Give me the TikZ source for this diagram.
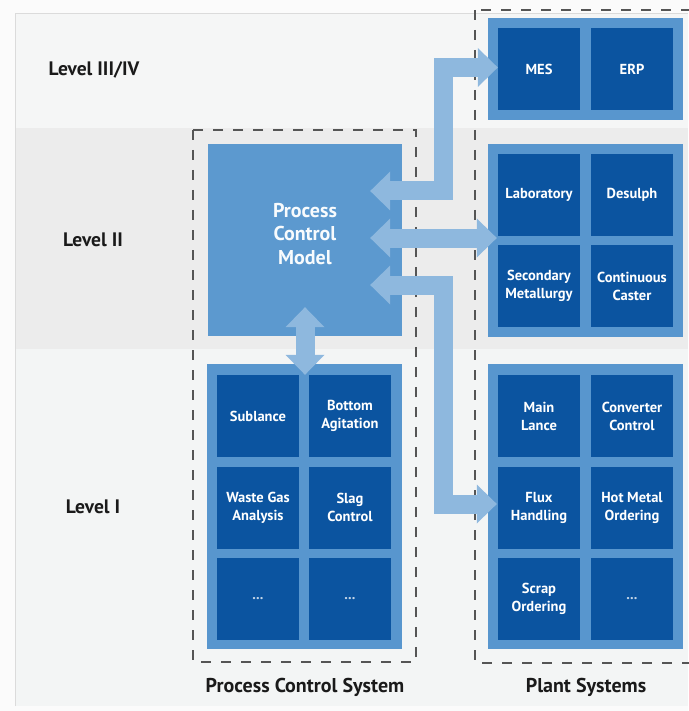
\documentclass[tikz,border=0pt]{standalone}
\usepackage{fontspec}
\setmainfont{PT Sans}
\usetikzlibrary{arrows.meta,calc}

\definecolor{pagebg}{HTML}{FBFBFB}
\definecolor{panelbg}{HTML}{F3F5F5}
\definecolor{bandtop}{HTML}{F5F6F6}
\definecolor{bandmid}{HTML}{ECECEC}
\definecolor{framebl}{HTML}{5896CE}
\definecolor{cellbl}{HTML}{0B54A0}
\definecolor{modelbl}{HTML}{5C99CF}
\definecolor{arrowbl}{HTML}{8EB8DE}
\definecolor{dashgr}{HTML}{555555}
\definecolor{labelk}{HTML}{1A1A1A}

\begin{document}
\begin{tikzpicture}[x=1pt,y=-1pt,
  frame/.style={fill=framebl, draw=none, minimum width=195pt, inner sep=0pt},
  cell/.style={fill=cellbl, draw=none, minimum width=82pt, minimum height=82pt,
    inner sep=2pt, text=white, align=center,
    font=\bfseries\fontsize{14.5}{18}\selectfont},
  dots/.style={cell, text=white!75!cellbl},
  model/.style={fill=modelbl, draw=none, minimum width=194pt, minimum height=192pt,
    inner sep=0pt},
  modeltext/.style={text=white!96!modelbl, align=center,
    font=\bfseries\fontsize{20}{23.5}\selectfont},
  levellabel/.style={text=labelk, font=\bfseries\fontsize{19.5}{22}\selectfont},
  grouplabel/.style={text=labelk, font=\bfseries\fontsize{20}{22}\selectfont},
  groupbox/.style={draw=dashgr, line width=2pt, dash pattern=on 10pt off 10pt},
  blockarrow/.style={draw=arrowbl, line width=19pt, line join=miter,
    {Triangle[length=20pt,width=39pt,line width=0pt]}-{Triangle[length=20pt,width=39pt,line width=0pt]}}
]
\useasboundingbox (0,0) rectangle (688,711);

% page, panel and level bands
\fill[pagebg] (0,0) rectangle (688,711);
\fill[panelbg] (15,13) rectangle (688,706);
\fill[bandtop] (15,13) rectangle (688,128);
\fill[bandmid] (15,128) rectangle (688,349);
\draw[black!14, line width=0.8pt] (15,706) -- (15,13) -- (688,13);

% level labels
\node[levellabel] (lv34) at (94,70) {Level III/IV};
\node[levellabel] (lv2)  at (93,240) {Level II};
\node[levellabel] (lv1)  at (93,507) {Level I};

% dashed system boundaries
\draw[groupbox] (193,130) rectangle (416,662);
\draw[groupbox] (475,10) rectangle (700,663);

% process control system
\node[model] (pcm) at (305,240) {};
\node[modeltext] (pcmtext) at ($(pcm.center)+(0,-6)$) {Process\\Control\\Model};
\node[frame, minimum height=285pt] (pcsframe) at (304.5,506.5) {};
\node[cell] (sublance) at (258,416)   {Sublance};
\node[cell] (bottom)   at (350,416)   {Bottom\\Agitation};
\node[cell] (wastegas) at (258,507.5) {Waste Gas\\Analysis};
\node[cell] (slag)     at (350,507.5) {Slag\\Control};
\node[dots] (pcsmoreA) at (258,599)   {...};
\node[dots] (pcsmoreB) at (350,599)   {...};

% plant systems
\node[frame, minimum height=102pt] (mesframe) at (585.5,69) {};
\node[cell] (mes) at (539,69) {MES};
\node[cell] (erp) at (632,69) {ERP};

\node[frame, minimum height=193pt] (l2frame) at (585.5,240.5) {};
\node[cell] (lab)       at (539,195) {Laboratory};
\node[cell] (desulph)   at (632,195) {Desulph};
\node[cell] (secondary) at (539,286) {Secondary\\Metallurgy};
\node[cell] (caster)    at (632,286) {Continuous\\Caster};

\node[frame, minimum height=285pt] (l1frame) at (585.5,506.5) {};
\node[cell] (lance)     at (539,416)   {Main\\Lance};
\node[cell] (converter) at (632,416)   {Converter\\Control};
\node[cell] (flux)      at (539,507.5) {Flux\\Handling};
\node[cell] (hotmetal)  at (632,507.5) {Hot Metal\\Ordering};
\node[cell] (scrap)     at (539,599)   {Scrap\\Ordering};
\node[dots] (plantmore) at (632,599)   {...};

% group captions
\node[grouplabel] (pcslabel)   at (305,687) {Process Control System};
\node[grouplabel] (plantlabel) at (586,687) {Plant Systems};

% data exchange arrows
\coordinate (busx) at (443.5,0);
\draw[blockarrow] ($(pcm.east)+(-32,-49)$) -- ($(busx)+(0,191)$)
  -- ($(busx)+(0,67.5)$) -- ($(mesframe.west)+(10,-1.5)$);
\draw[blockarrow] ($(pcm.east)+(-32,-2)$) -- ($(l2frame.west)+(9,-2.5)$);
\draw[blockarrow] ($(pcm.east)+(-32,45)$) -- ($(busx)+(0,285)$)
  -- ($(busx)+(0,504)$) -- ($(flux.west)+(-1,-3.5)$);
\draw[blockarrow] ($(pcm.south)+(0,-29)$) -- ($(pcsframe.north)+(0.5,11)$);
\end{tikzpicture}
\end{document}
